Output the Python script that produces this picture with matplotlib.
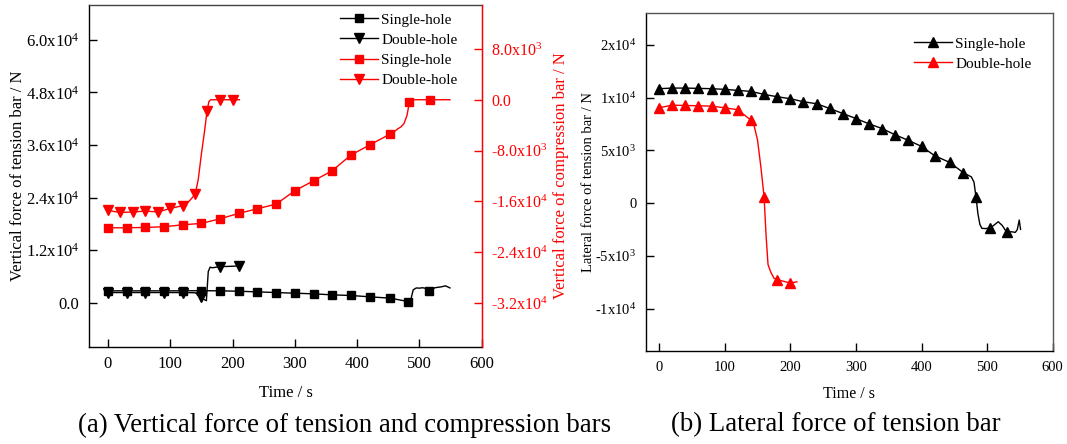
import numpy as np
import matplotlib
matplotlib.use("Agg")
import matplotlib.pyplot as plt
from matplotlib.lines import Line2D
from matplotlib.ticker import FixedLocator, FixedFormatter

plt.rcParams['font.family'] = ['Liberation Serif', 'DejaVu Serif']
plt.rcParams['mathtext.fontset'] = 'custom'
plt.rcParams['mathtext.rm'] = 'Liberation Serif'
plt.rcParams['mathtext.it'] = 'Liberation Serif:italic'

# ---------------- (a) vertical force, tension bar (left axis, black) ----------------
a_single_t = [0, 30, 60, 90, 120, 150, 180, 210, 240, 270, 300, 330, 360, 390, 420, 453,
              482, 486, 490, 495, 500, 505, 510, 516, 525, 535, 542, 549]
a_single_v = [2740, 2740, 2740, 2740, 2740, 2780, 2740, 2650, 2500, 2350, 2200, 2060, 1820,
              1680, 1380, 1070, 300, 600, 2960, 3400, 3350, 3450, 3300, 2800, 3450, 3650, 3880, 3400]
a_single_mt = [0, 30, 60, 90, 120, 150, 180, 210, 240, 270, 300, 330, 360, 390, 420, 453, 482, 516]
a_single_mv = [2740, 2740, 2740, 2740, 2740, 2780, 2740, 2650, 2500, 2350, 2200, 2060, 1820,
               1680, 1380, 1070, 300, 2600]

a_double_t = [0, 30, 60, 90, 120, 140, 150, 155, 158, 161, 164, 168, 172, 180, 190, 200, 210, 214]
a_double_v = [2350, 2350, 2350, 2350, 2350, 2300, 1300, 700, 500, 7140, 8140, 8000, 8100,
              8280, 8300, 8350, 8440, 8400]
a_double_mt = [0, 30, 60, 90, 120, 150, 180, 210]
a_double_mv = [2350, 2350, 2350, 2350, 2350, 1300, 8280, 8440]

# ---------------- (a) vertical force, compression bar (right axis, red) ----------------
c_single_t = [0, 30, 60, 90, 120, 150, 180, 210, 240, 270, 300, 330, 360, 390, 420, 453,
              460, 465, 470, 475, 480, 484, 490, 520, 549]
c_single_v = [-20160, -20160, -20100, -20000, -19690, -19470, -18740, -17890, -17160, -16430,
              -14330, -12760, -11180, -8710, -7130, -5400, -5000, -4600, -4300, -3800, -2500,
              -360, 0, 0, 0]
c_single_mt = [0, 30, 60, 90, 120, 150, 180, 210, 240, 270, 300, 330, 360, 390, 420, 453, 484, 517]
c_single_mv = [-20160, -20160, -20100, -20000, -19690, -19470, -18740, -17890, -17160, -16430,
               -14330, -12760, -11180, -8710, -7130, -5400, -360, 0]

c_double_t = [0, 10, 21, 30, 40, 50, 60, 70, 80, 90, 100, 110, 119, 130, 140, 145, 150,
              155, 159, 162, 165, 180, 200, 211]
c_double_v = [-17370, -17600, -17730, -17700, -17690, -17600, -17530, -17600, -17640, -17400,
              -17100, -16900, -16690, -16000, -14900, -12500, -8500, -5000, -1780, -300, 0, 0, 0, 0]
c_double_mt = [0, 20, 40, 60, 80, 100, 120, 140, 159, 180, 200]
c_double_mv = [-17370, -17730, -17690, -17530, -17640, -17100, -16690, -14900, -1780, 0, 0]

# ---------------- (b) lateral force, tension bar ----------------
b_single_mt = [0, 20, 40, 60, 80, 100, 120, 140, 160, 180, 200, 220, 240, 260, 280, 300,
               320, 340, 360, 380, 400, 420, 443, 464, 483, 505, 530]
b_single_mv = [10857, 10914, 10914, 10886, 10857, 10790, 10695, 10600, 10314, 10095, 9905,
               9619, 9429, 8981, 8505, 8029, 7524, 7076, 6476, 5962, 5390, 4505, 3867, 2886,
               629, -2320, -2760]
b_single_t = [0, 20, 40, 60, 80, 100, 120, 140, 160, 180, 200, 220, 240, 260, 280, 300,
              320, 340, 360, 380, 400, 420, 443, 464, 476, 480, 483, 486, 489, 492, 498, 505,
              510, 517, 523, 530, 537, 543, 546, 549, 551]
b_single_v = [10857, 10914, 10914, 10886, 10857, 10790, 10695, 10600, 10314, 10095, 9905,
              9619, 9429, 8981, 8505, 8029, 7524, 7076, 6476, 5962, 5390, 4505, 3867, 2886,
              2500, 2000, 629, -1000, -2000, -2380, -2400, -2320, -2100, -1750, -2100, -2760,
              -2700, -2760, -2500, -1590, -2480]

b_double_mt = [0, 20, 40, 60, 80, 100, 120, 140, 160, 180, 200]
b_double_mv = [9048, 9295, 9267, 9238, 9200, 9048, 8857, 7867, 629, -7240, -7560]
b_double_t = [0, 20, 40, 60, 80, 100, 120, 140, 145, 150, 155, 160, 163, 166, 170, 175,
              180, 190, 200, 210]
b_double_v = [9048, 9295, 9267, 9238, 9200, 9048, 8857, 7867, 7300, 6000, 3500, 629, -3000,
              -5800, -6500, -7100, -7240, -7400, -7560, -7450]

# ticks and labels
x_ticks = [0, 100, 200, 300, 400, 500, 600]
a_left_ticks = [0, 12000, 24000, 36000, 48000, 60000]
a_left_labels = ['0.0', '1.2x10$^{4}$', '2.4x10$^{4}$', '3.6x10$^{4}$', '4.8x10$^{4}$', '6.0x10$^{4}$']
a_right_ticks = [-32000, -24000, -16000, -8000, 0, 8000]
a_right_labels = ['-3.2x10$^{4}$', '-2.4x10$^{4}$', '-1.6x10$^{4}$', '-8.0x10$^{3}$', '0.0', '8.0x10$^{3}$']
b_ticks = [-10000, -5000, 0, 5000, 10000, 15000]
b_labels = ['-1x10$^{4}$', '-5x10$^{3}$', '0', '5x10$^{3}$', '1x10$^{4}$', '2x10$^{4}$']

RED = '#ff0000'
W, H = 1067, 444

fig = plt.figure(figsize=(W / 100, H / 100), dpi=100)
ax_a = fig.add_axes([89.3 / W, 1 - 346.7 / H, (481.7 - 89.3) / W, (346.7 - 4.7) / H])
ax_c = ax_a.twinx()
ax_b = fig.add_axes([646 / W, 1 - 351 / H, (1052.7 - 646) / W, (351 - 13.3) / H])

lw = 1.0
# panel a
ax_a.plot(a_double_t, a_double_v, color='black', lw=lw)
ax_a.plot(a_double_mt, a_double_mv, 'v', color='black', ms=6.5, ls='none')
ax_a.plot(a_single_t, a_single_v, color='black', lw=lw)
ax_a.plot(a_single_mt, a_single_mv, 's', color='black', ms=5.5, ls='none')
ax_c.plot(c_single_t, c_single_v, color=RED, lw=lw)
ax_c.plot(c_single_mt, c_single_mv, 's', color=RED, ms=5.5, ls='none')
ax_c.plot(c_double_t, c_double_v, color=RED, lw=lw)
ax_c.plot(c_double_mt, c_double_mv, 'v', color=RED, ms=6.5, ls='none')

ax_a.set_xlim(-30, 600)
ax_a.set_ylim(-10000, 68000)
ax_c.set_ylim(-38880, 14960)
ax_a.xaxis.set_major_locator(FixedLocator(x_ticks))
ax_a.yaxis.set_major_locator(FixedLocator(a_left_ticks))
ax_a.yaxis.set_major_formatter(FixedFormatter(a_left_labels))
ax_c.yaxis.set_major_locator(FixedLocator(a_right_ticks))
ax_c.yaxis.set_major_formatter(FixedFormatter(a_right_labels))

ax_a.tick_params(direction='in', length=6, width=1, labelsize=12, pad=7, top=False, right=False)
ax_c.tick_params(direction='in', length=6, width=1, labelsize=11.5, pad=7, colors=RED)
for s in ['left', 'bottom']:
    ax_a.spines[s].set_linewidth(1.0)
ax_a.spines['top'].set_linewidth(1.0)
ax_a.spines['top'].set_color('#444444')
ax_c.spines['right'].set_color(RED)
ax_c.spines['right'].set_linewidth(1.0)
ax_c.spines['top'].set_visible(False)
ax_c.spines['left'].set_visible(False)
ax_c.spines['bottom'].set_visible(False)

ax_a.text(0.5, (346.7 - 392.7) / 342, 'Time / s', transform=ax_a.transAxes,
          ha='center', va='center', fontsize=12)
fig.text(18 / W, 1 - 175.7 / H, 'Vertical force of tension bar / N', rotation=90,
         ha='center', va='center', fontsize=12)
fig.text(561 / W, 1 - 175.7 / H, 'Vertical force of compression bar / N', rotation=90,
         ha='center', va='center', fontsize=12, color=RED)

handles_a = [Line2D([], [], color='black', marker='s', ms=5.5, lw=lw),
             Line2D([], [], color='black', marker='v', ms=6.5, lw=lw),
             Line2D([], [], color=RED, marker='s', ms=5.5, lw=lw),
             Line2D([], [], color=RED, marker='v', ms=6.5, lw=lw)]
fig.legend(handles_a, ['Single-hole', 'Double-hole', 'Single-hole', 'Double-hole'],
           loc='upper left', bbox_to_anchor=(340 / W, 1 - 13 / H), frameon=False,
           fontsize=11, handlelength=2.5, handletextpad=0.2, labelspacing=0.42,
           borderpad=0, borderaxespad=0)

# panel b
ax_b.plot(b_single_t, b_single_v, color='black', lw=lw)
ax_b.plot(b_single_mt, b_single_mv, '^', color='black', ms=6.5, ls='none')
ax_b.plot(b_double_t, b_double_v, color=RED, lw=lw)
ax_b.plot(b_double_mt, b_double_mv, '^', color=RED, ms=6.5, ls='none')
ax_b.set_xlim(-20, 600)
ax_b.set_ylim(-14000, 18000)
ax_b.xaxis.set_major_locator(FixedLocator(x_ticks))
ax_b.yaxis.set_major_locator(FixedLocator(b_ticks))
ax_b.yaxis.set_major_formatter(FixedFormatter(b_labels))
ax_b.tick_params(direction='in', length=6, width=1, labelsize=10.5, pad=7)
for s in ax_b.spines.values():
    s.set_linewidth(1.0)
ax_b.spines['top'].set_color('#555555')
ax_b.spines['right'].set_color('#555555')
ax_b.text(0.5, (351 - 394) / 337.7, 'Time / s', transform=ax_b.transAxes,
          ha='center', va='center', fontsize=11.5)
fig.text(588 / W, 1 - 182 / H, 'Lateral force of tension bar / N', rotation=90,
         ha='center', va='center', fontsize=10.5)
handles_b = [Line2D([], [], color='black', marker='^', ms=6.5, lw=lw),
             Line2D([], [], color=RED, marker='^', ms=6.5, lw=lw)]
fig.legend(handles_b, ['Single-hole', 'Double-hole'],
           loc='upper left', bbox_to_anchor=(914 / W, 1 - 37 / H), frameon=False,
           fontsize=11, handlelength=2.5, handletextpad=0.2, labelspacing=0.42,
           borderpad=0, borderaxespad=0)

# captions
fig.text(345 / W, 1 - 425 / H, '(a) Vertical force of tension and compression bars',
         ha='center', va='center', fontsize=19.3)
fig.text(836 / W, 1 - 425 / H, '(b) Lateral force of tension bar',
         ha='center', va='center', fontsize=19.3)

fig.savefig('out.png', dpi=100)
